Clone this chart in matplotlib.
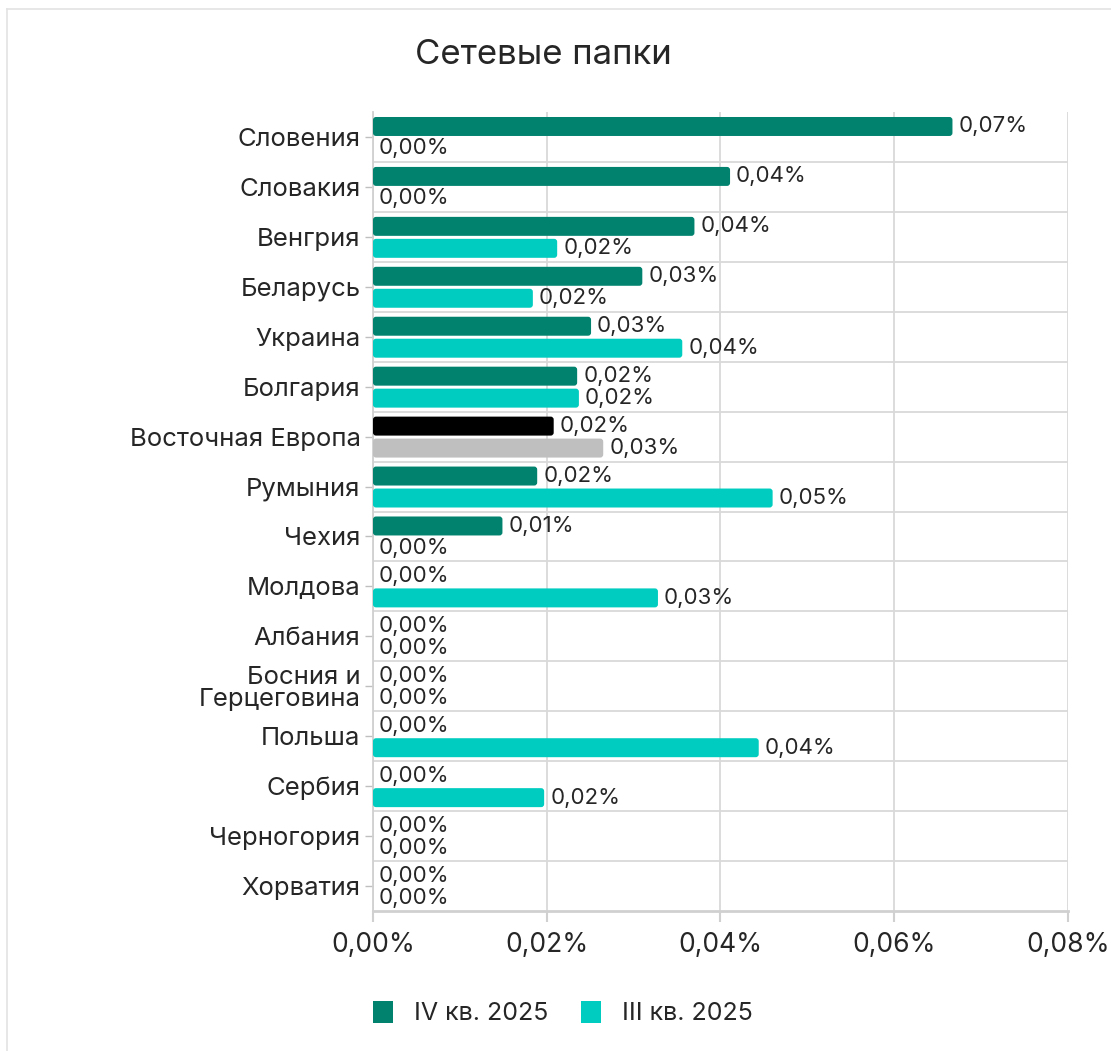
import numpy as np
import matplotlib.pyplot as plt
from matplotlib.patches import FancyBboxPatch, Rectangle
from matplotlib.lines import Line2D

plt.rcParams['font.family'] = ['Inter', 'DejaVu Sans']

categories = ['Словения', 'Словакия', 'Венгрия', 'Беларусь', 'Украина', 'Болгария',
              'Восточная Европа', 'Румыния', 'Чехия', 'Молдова', 'Албания',
              'Босния и\nГерцеговина', 'Польша', 'Сербия', 'Черногория', 'Хорватия']
q4_2025 = [0.0667, 0.0411, 0.0370, 0.0310, 0.0251, 0.0235, 0.0208, 0.0189, 0.0149,
           0.0, 0.0, 0.0, 0.0, 0.0, 0.0, 0.0]
q3_2025 = [0.0, 0.0, 0.0212, 0.0184, 0.0356, 0.0237, 0.0265, 0.0460, 0.0, 0.0328,
           0.0, 0.0, 0.0444, 0.0197, 0.0, 0.0]
series_names = ['IV кв. 2025', 'III кв. 2025']
xticks = [0.0, 0.02, 0.04, 0.06, 0.08]

c_q4 = '#00826E'
c_q3 = '#00CCBF'
c_avg4 = '#000000'
c_avg3 = '#BFBFBF'
txt = '#262626'
grid_c = '#D9D9D9'

W, H = 1111, 1051
fig = plt.figure(figsize=(W / 100, H / 100), dpi=100)
ax = fig.add_axes([373 / W, 1 - 911 / H, (1068 - 373) / W, (911 - 112) / H])

n = len(categories)
y = np.arange(n)
h = 0.38
off4, off3 = -0.21, 0.23

bars4 = ax.barh(y + off4, q4_2025, height=h)
bars3 = ax.barh(y + off3, q3_2025, height=h)

ax.set_xlim(0, 0.08)
ax.set_ylim(n - 0.5, -0.5)

# rounded corners instead of plain rectangles
px_x = 0.08 / (1068 - 373)
px_y = 1 / 50.0
aspect = px_y / px_x
for bars, col in ((bars4, c_q4), (bars3, c_q3)):
    for i, r in enumerate(bars):
        x0, y0 = r.get_xy()
        w, hh = r.get_width(), r.get_height()
        r.remove()
        if w <= 0:
            continue
        fc = col
        if categories[i] == 'Восточная Европа':
            fc = c_avg4 if col == c_q4 else c_avg3
        p = FancyBboxPatch((x0, y0), w, hh,
                           boxstyle='round,pad=0,rounding_size=%f' % (3 * px_x),
                           mutation_aspect=aspect, fc=fc, ec='none', zorder=3)
        ax.add_patch(p)

def fmt(v):
    return ('%.2f%%' % v).replace('.', ',')

for vals, off in ((q4_2025, off4), (q3_2025, off3)):
    for i, v in enumerate(vals):
        ax.text(v + 6 * px_x, i + off, fmt(v), va='center', ha='left',
                fontsize=16, color=txt, zorder=4)

ax.set_yticks(y)
ax.set_yticklabels(categories, fontsize=18.5, color=txt, linespacing=0.95)
ax.set_yticks(np.arange(0.5, n - 1, 1.0), minor=True)
ax.set_xticks(xticks)
ax.set_xticklabels([fmt(v) for v in xticks], fontsize=19, color=txt)

ax.tick_params(axis='y', which='major', length=6, width=1, color='#BFBFBF', pad=3)
ax.tick_params(axis='y', which='minor', length=0)
ax.tick_params(axis='x', length=8, width=1.5, color='#D0D0D0', pad=7)

ax.grid(True, axis='x', which='major', color=grid_c, lw=1.3, zorder=0)
ax.grid(True, axis='y', which='minor', color=grid_c, lw=1.3, zorder=0)
ax.set_axisbelow(True)

for s in ('top', 'right'):
    ax.spines[s].set_visible(False)
ax.spines['left'].set_color('#D0D0D0')
ax.spines['left'].set_linewidth(1.3)
ax.spines['bottom'].set_color('#D0D0D0')
ax.spines['bottom'].set_linewidth(2.0)

fig.text(543 / W, 1 - 55 / H, 'Сетевые папки', ha='center', va='center',
         fontsize=25, color=txt)

# legend
handles = [Rectangle((0, 0), 1, 1, fc=c_q4), Rectangle((0, 0), 1, 1, fc=c_q3)]
fig.legend(handles, series_names, loc='center', bbox_to_anchor=(563 / W, 1 - 1013 / H),
           ncol=2, frameon=False, fontsize=18, handlelength=0.8, handleheight=1.0,
           handletextpad=0.85, columnspacing=1.3, labelcolor=txt)

# frame lines of the card
fig.add_artist(Line2D([7 / W, 1], [1 - 9 / H, 1 - 9 / H], color='#E3E3E3', lw=1.2))
fig.add_artist(Line2D([7 / W, 7 / W], [0, 1 - 9 / H], color='#E3E3E3', lw=1.2))

fig.savefig('out.png', dpi=100, facecolor='white')
